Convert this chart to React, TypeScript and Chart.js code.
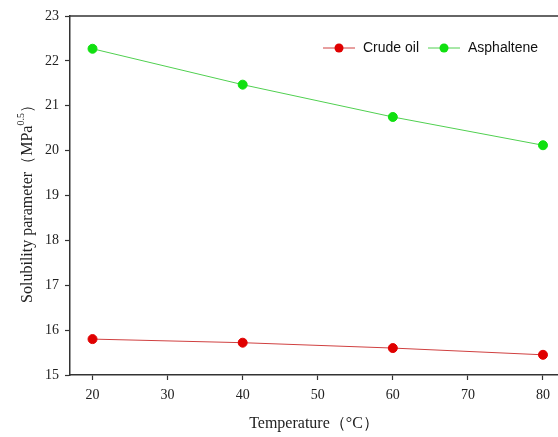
import React, { useEffect, useRef } from "react";
import { Chart, registerables } from "chart.js";
Chart.register(...registerables);

const temperatures = [20, 40, 60, 80];
const crudeOil = [15.8, 15.72, 15.6, 15.45];
const asphaltene = [22.27, 21.47, 20.75, 20.12];
const xTicks = [20, 30, 40, 50, 60, 70, 80];
const seriesNames = ["Crude oil", "Asphaltene"];

const SERIF = "'Liberation Serif', 'Times New Roman', serif";
const SANS = "'Liberation Sans', Arial, sans-serif";

export default function App() {
  const ref = useRef<HTMLCanvasElement>(null);
  useEffect(() => {
    if (!ref.current) return;
    const decor = {
      id: "decor",
      afterDraw(chart: any) {
        const { ctx, chartArea } = chart;
        ctx.save();
        // top border
        ctx.strokeStyle = "#333";
        ctx.lineWidth = 1.5;
        ctx.beginPath();
        ctx.moveTo(chartArea.left, chartArea.top);
        ctx.lineTo(chartArea.right, chartArea.top);
        ctx.stroke();
        // y title with superscript
        ctx.fillStyle = "#222";
        ctx.translate(28, 200);
        ctx.rotate(-Math.PI / 2);
        ctx.textBaseline = "middle";
        const a = "Solubility parameter（MPa";
        const c = "）";
        ctx.font = `16px ${SERIF}`;
        const wa = ctx.measureText(a).width;
        const wc = ctx.measureText(c).width;
        ctx.font = `10px ${SERIF}`;
        const wb = ctx.measureText("0.5").width;
        const total = wa + wb + wc;
        let x = -total / 2;
        ctx.font = `16px ${SERIF}`;
        ctx.textAlign = "left";
        ctx.fillText(a, x, 0);
        x += wa;
        ctx.font = `10px ${SERIF}`;
        ctx.fillText("0.5", x, -7);
        x += wb;
        ctx.font = `16px ${SERIF}`;
        ctx.fillText(c, x, 0);
        ctx.restore();
        // legend
        ctx.save();
        const items = [
          { name: seriesNames[0], line: "#d04040", dot: "#e00000", x: 323 },
          { name: seriesNames[1], line: "#50d050", dot: "#10e010", x: 428 },
        ];
        ctx.font = `14px ${SANS}`;
        ctx.textBaseline = "middle";
        const ly = 48;
        for (const it of items) {
          ctx.strokeStyle = it.line;
          ctx.lineWidth = 1;
          ctx.beginPath();
          ctx.moveTo(it.x, ly);
          ctx.lineTo(it.x + 32, ly);
          ctx.stroke();
          ctx.fillStyle = it.dot;
          ctx.beginPath();
          ctx.arc(it.x + 16, ly, 4.5, 0, Math.PI * 2);
          ctx.fill();
          ctx.fillStyle = "#111";
          ctx.fillText(it.name, it.x + 40, ly);
        }
        ctx.restore();
      },
    };
    const chart = new Chart(ref.current, {
      type: "line",
      data: {
        datasets: [
          {
            label: seriesNames[0],
            data: temperatures.map((t, i) => ({ x: t, y: crudeOil[i] })),
            borderColor: "#d04040",
            backgroundColor: "#e00000",
            pointBackgroundColor: "#e00000",
            pointBorderColor: "#e00000",
            pointRadius: 4.5,
            borderWidth: 1,
          },
          {
            label: seriesNames[1],
            data: temperatures.map((t, i) => ({ x: t, y: asphaltene[i] })),
            borderColor: "#50d050",
            backgroundColor: "#10e010",
            pointBackgroundColor: "#10e010",
            pointBorderColor: "#10e010",
            pointRadius: 4.5,
            borderWidth: 1,
          },
        ],
      },
      options: {
        animation: false,
        responsive: false,
        layout: { autoPadding: false, padding: { top: 16, right: 0, left: 0, bottom: 0 } },
        plugins: { legend: { display: false }, tooltip: { enabled: false } },
        scales: {
          x: {
            type: "linear",
            min: 17,
            max: 82,
            afterBuildTicks: (axis: any) => {
              axis.ticks = xTicks.map((v) => ({ value: v }));
            },
            afterFit: (axis: any) => {
              axis.height = 62;
            },
            grid: { drawOnChartArea: false, drawTicks: true, tickLength: 5, tickColor: "#333", tickWidth: 1.2 },
            border: { display: true, color: "#333", width: 1.5 },
            ticks: { font: { family: SERIF, size: 14 }, color: "#222", padding: 7, maxRotation: 0 },
            title: {
              display: true,
              text: "Temperature（°C）",
              font: { family: SERIF, size: 16 },
              color: "#222",
              padding: { top: 5 },
            },
          },
          y: {
            type: "linear",
            min: 15,
            max: 23,
            afterFit: (axis: any) => {
              axis.width = 70;
            },
            grid: { drawOnChartArea: false, drawTicks: true, tickLength: 5, tickColor: "#333", tickWidth: 1.2 },
            border: { display: true, color: "#333", width: 1.5 },
            ticks: { stepSize: 1, font: { family: SERIF, size: 14 }, color: "#222", padding: 6 },
          },
        },
      },
      plugins: [decor],
    } as any);
    return () => chart.destroy();
  }, []);
  return (
    <div style={{ position: "fixed", left: 0, top: 0, width: 558, height: 437, background: "#fff" }}>
      <canvas ref={ref} width={558} height={437} style={{ width: 558, height: 437 }} />
    </div>
  );
}
